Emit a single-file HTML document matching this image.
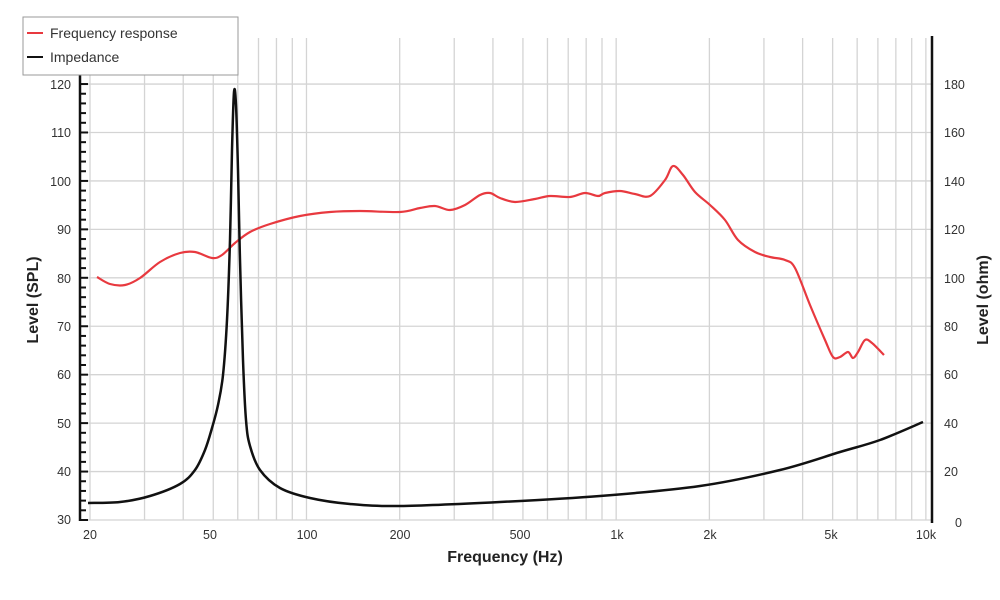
<!DOCTYPE html>
<html><head><meta charset="utf-8"><style>
html,body{margin:0;padding:0;background:#fff;}
svg{display:block;font-family:"Liberation Sans",sans-serif;}
</style></head><body>
<svg id="s" width="1000" height="600" xmlns="http://www.w3.org/2000/svg">
<g id="grid" stroke="#d4d4d4" stroke-width="1.3"></g>
<g id="ticks" stroke="#111" stroke-width="2"></g>
<line x1="80" y1="36" x2="80" y2="521" stroke="#111" stroke-width="2.5"/>
<line x1="932" y1="36" x2="932" y2="523" stroke="#111" stroke-width="2.5"/>
<path id="red" fill="none" stroke="#e8393f" stroke-width="2.2" stroke-linejoin="round"/>
<path id="blk" fill="none" stroke="#111" stroke-width="2.5" stroke-linejoin="round"/>
<g font-size="12.5" fill="#333" text-anchor="end">
<text x="71" y="89">120</text><text x="71" y="137">110</text><text x="71" y="186">100</text><text x="71" y="234">90</text><text x="71" y="283">80</text><text x="71" y="331">70</text><text x="71" y="379">60</text><text x="71" y="428">50</text><text x="71" y="476">40</text><text x="71" y="524">30</text>
</g>
<g font-size="12.5" fill="#333" text-anchor="start">
<text x="944" y="89">180</text><text x="944" y="137">160</text><text x="944" y="186">140</text><text x="944" y="234">120</text><text x="944" y="283">100</text><text x="944" y="331">80</text><text x="944" y="379">60</text><text x="944" y="428">40</text><text x="944" y="476">20</text><text x="955" y="527">0</text>
</g>
<g font-size="12.5" fill="#333" text-anchor="middle">
<text x="90" y="539">20</text><text x="210" y="539">50</text><text x="307" y="539">100</text><text x="400" y="539">200</text><text x="520" y="539">500</text><text x="617" y="539">1k</text><text x="710" y="539">2k</text><text x="831" y="539">5k</text><text x="926" y="539">10k</text>
</g>
<text x="505" y="562" font-size="16" font-weight="bold" fill="#222" text-anchor="middle">Frequency (Hz)</text>
<text transform="translate(38,300) rotate(-90)" font-size="16" font-weight="bold" fill="#222" text-anchor="middle">Level (SPL)</text>
<text transform="translate(988,300) rotate(-90)" font-size="16" font-weight="bold" fill="#222" text-anchor="middle">Level (ohm)</text>
<rect x="23" y="17" width="215" height="58" fill="#fff" stroke="#999" stroke-width="1"/>
<line x1="27" y1="33" x2="43" y2="33" stroke="#e8393f" stroke-width="2"/>
<line x1="27" y1="57" x2="43" y2="57" stroke="#111" stroke-width="2"/>
<text x="50" y="38" font-size="14" fill="#333">Frequency response</text>
<text x="50" y="62" font-size="14" fill="#333">Impedance</text>
</svg>
<script>
var ns="http://www.w3.org/2000/svg",g=document.getElementById('grid'),t=document.getElementById('ticks');
function L(p,x1,y1,x2,y2){var l=document.createElementNS(ns,'line');l.setAttribute('x1',x1);l.setAttribute('y1',y1);l.setAttribute('x2',x2);l.setAttribute('y2',y2);p.appendChild(l);}
for(var v=30;v<=120;v+=10){var y=520-(v-30)*48.44/10;L(g,80,y,932,y);}
var fs=[20,30,40,50,60,70,80,90,100,200,300,400,500,600,700,800,900,1000,2000,3000,4000,5000,6000,7000,8000,9000,10000];
fs.forEach(function(f){var x=90+309.7*Math.log10(f/20);L(g,x,38,x,520);});
for(var v=30;v<=120;v+=2){var y=520-(v-30)*4.844;L(t,80,y,(v%10==0)?88:86,y);}
function smooth(s){var p=s.trim().split(/\s+/).map(function(a){return a.split(',').map(Number);});
var d='M'+p[0][0]+','+p[0][1];
for(var i=0;i<p.length-1;i++){var p0=p[i-1]||p[i],p1=p[i],p2=p[i+1],p3=p[i+2]||p2;
var c1x=p1[0]+(p2[0]-p0[0])/6,c1y=p1[1]+(p2[1]-p0[1])/6,c2x=p2[0]-(p3[0]-p1[0])/6,c2y=p2[1]-(p3[1]-p1[1])/6;
d+=' C'+c1x+','+c1y+' '+c2x+','+c2y+' '+p2[0]+','+p2[1];}return d;}
document.getElementById('red').setAttribute('d',smooth("97,277 110,284 125,285 140,278 160,262 180,253 195,252 212,258 222,255 235,243 250,232 270,224 300,216 330,212 360,211 400,212 420,208 435,206 450,210 465,205 480,195 490,193 500,198 515,202 535,199 550,196 570,197 585,193 598,196 605,193 620,191 635,194 650,196 665,180 673,166 683,175 695,192 710,205 725,220 738,240 755,252 770,257 785,260 795,268 810,305 825,340 833,357 840,357 848,352 853,358 858,352 865,340 872,343 884,355"));
document.getElementById('blk').setAttribute('d',smooth("88,503 120,502 150,496 180,484 195,470 205,450 212,428 218,405 223,375 227,320 230,240 232,150 234,92 236,105 238,170 240,260 243,360 246,420 250,446 260,470 280,488 310,498 350,504 400,506 500,502 600,496 700,486 780,470 840,452 880,440 923,422"));
</script>
</body></html>
